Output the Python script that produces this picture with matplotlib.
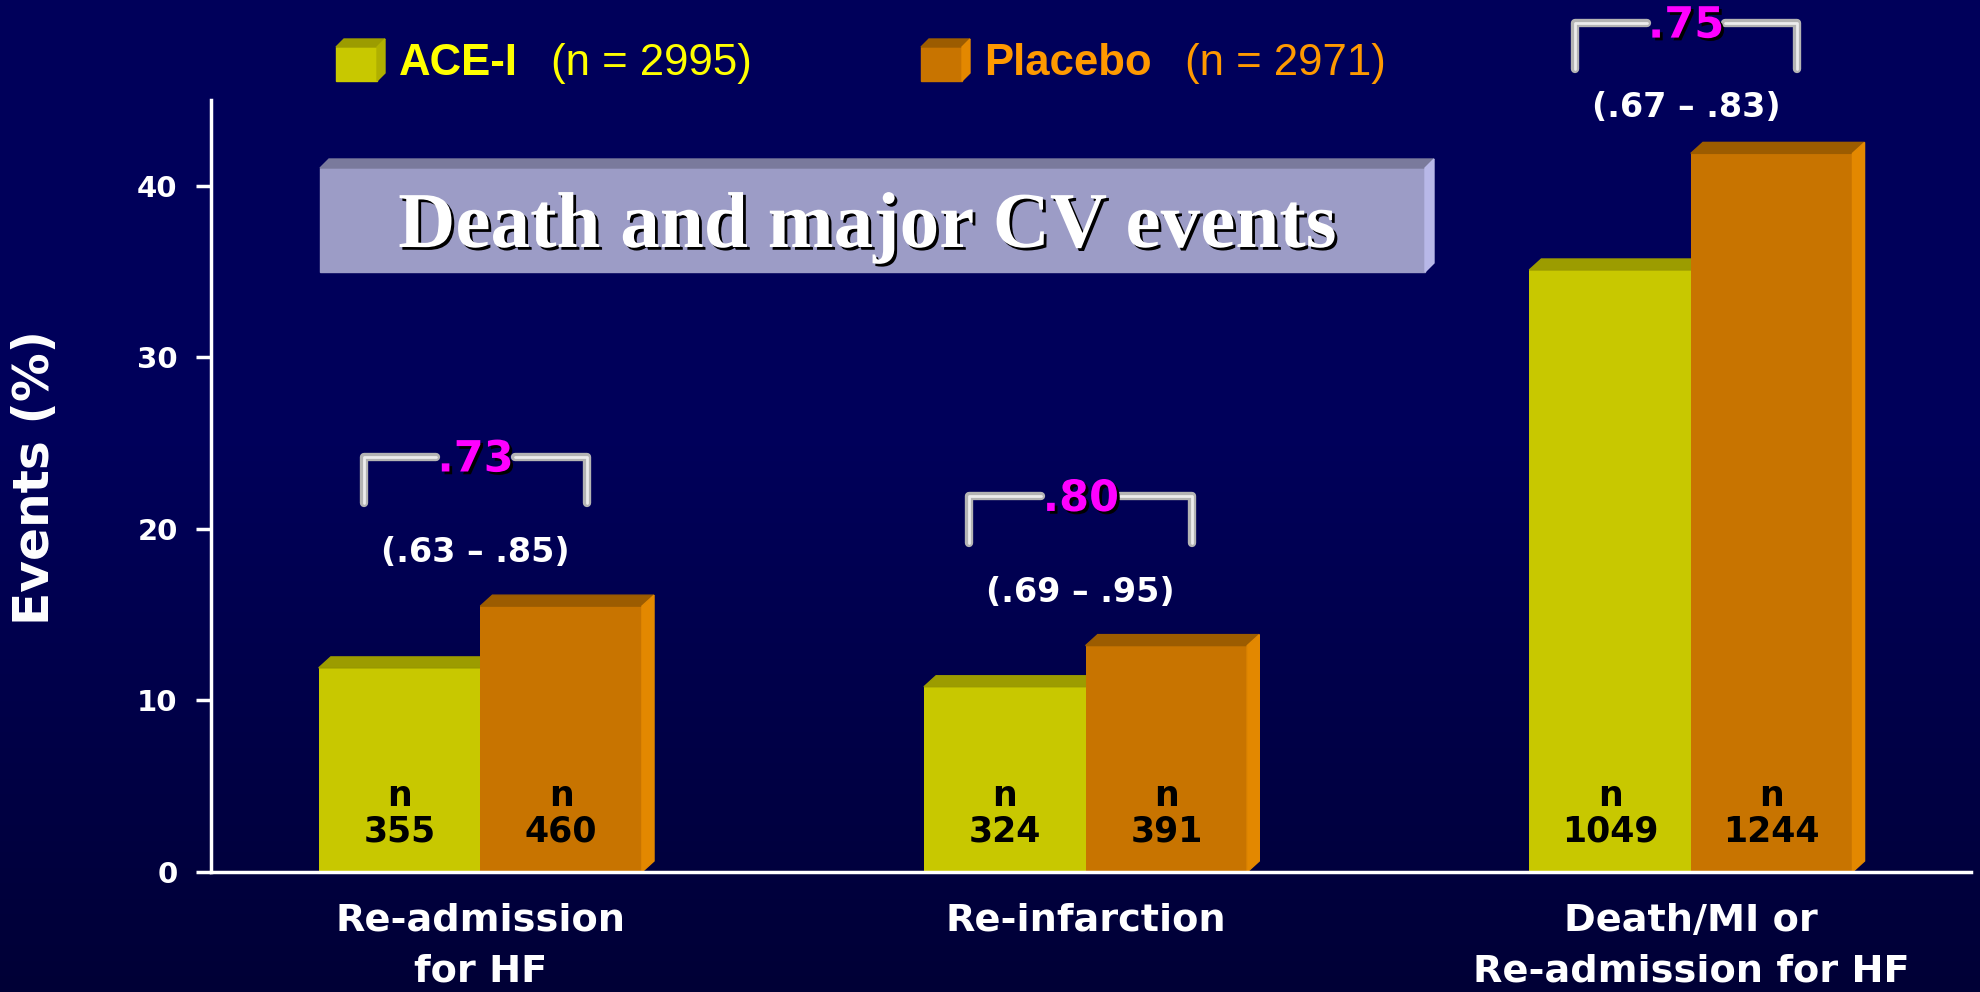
import matplotlib
matplotlib.use("Agg")
import matplotlib.pyplot as plt
import matplotlib.patheffects as pe
from matplotlib.patches import Polygon
import numpy as np

# data
categories = ["Re-admission\nfor HF", "Re-infarction", "Death/MI or\nRe-admission for HF"]
ace = [11.9, 10.8, 35.1]
placebo = [15.5, 13.2, 41.9]
ace_n = [355, 324, 1049]
placebo_n = [460, 391, 1244]
hr = [".73", ".80", ".75"]
ci = ["(.63 \u2013 .85)", "(.69 \u2013 .95)", "(.67 \u2013 .83)"]
yticks = [0, 10, 20, 30, 40]
legend_names = ["ACE-I", "Placebo"]
legend_counts = ["(n = 2995)", "(n = 2971)"]
title = "Death and major CV events"

ACE_FRONT, ACE_TOP = "#c8c800", "#9c9c00"
PLA_FRONT, PLA_TOP, PLA_SIDE = "#c87400", "#9c5c00", "#e38800"

plt.rcParams["font.family"] = ["DejaVu Sans"]

W, H = 1981, 992
fig = plt.figure(figsize=(W / 100, H / 100), dpi=100)

# background gradient
bg = fig.add_axes([0, 0, 1, 1], zorder=0)
t = np.linspace(0, 1, 256)
blend = np.clip((t - 0.45) / 0.55, 0, 1)[:, None]
top_c = np.array([0, 0, 0x5a]) / 255
bot_c = np.array([0, 0, 0x36]) / 255
grad = top_c * (1 - blend) + bot_c * blend
bg.imshow(grad[:, None, :], aspect="auto", extent=[0, 1, 0, 1])
bg.axis("off")

ax = fig.add_axes([0.1065, 0.121, 0.8885, 0.778], zorder=1)
ax.set_facecolor("none")
ax.set_xlim(-0.445, 2.463)
ax.set_ylim(0, 45)

x = np.arange(len(categories))
w = 0.267
dx, dy = 0.02, 0.64  # depth of the 3D faces

ax.bar(x - w / 2, ace, w, color=ACE_FRONT, zorder=3)
ax.bar(x + w / 2, placebo, w, color=PLA_FRONT, zorder=5)
for i in range(len(categories)):
    L, R = x[i] - w, x[i]
    v = ace[i]
    ax.add_patch(Polygon([(L, v), (L + dx, v + dy), (R + dx, v + dy), (R, v)],
                         closed=True, color=ACE_TOP, zorder=3, clip_on=False))
    L, R = x[i], x[i] + w
    v = placebo[i]
    ax.add_patch(Polygon([(L, v), (L + dx, v + dy), (R + dx, v + dy), (R, v)],
                         closed=True, color=PLA_TOP, zorder=5, clip_on=False))
    ax.add_patch(Polygon([(R, 0), (R + dx, dy), (R + dx, v + dy), (R, v)],
                         closed=True, color=PLA_SIDE, zorder=5, clip_on=False))

    # counts inside bars
    for cx, n in [(x[i] - w / 2, ace_n[i]), (x[i] + w / 2, placebo_n[i])]:
        ax.text(cx, 3.85, "n", ha="center", va="baseline", fontsize=25,
                fontweight="bold", color="black", zorder=6)
        ax.text(cx, 1.75, str(n), ha="center", va="baseline", fontsize=25,
                fontweight="bold", color="black", zorder=6)

    # hazard ratio bracket
    pv = max(ace[i], placebo[i])
    top = min(pv + 8.7, 49.5)
    bot = top - 2.7
    cy = min(pv + 3.1, 44.6)
    bx = x[i] - 0.008
    hw, gap = 0.184, 0.065
    for xs in ([bx - hw, bx - hw, bx - gap], [bx + hw, bx + hw, bx + gap]):
        ax.plot(xs, [bot, top, top], color="#b4b4b4", lw=6, solid_capstyle="round",
                solid_joinstyle="round", clip_on=False, zorder=6)
        ax.plot(xs, [bot, top, top], color="#ececec", lw=2, solid_capstyle="round",
                clip_on=False, zorder=6)
    ax.text(bx, top - 0.15, hr[i], ha="center", va="center", fontsize=31,
            fontweight="bold", color="#ff00ff", zorder=7, clip_on=False,
            path_effects=[pe.withSimplePatchShadow(offset=(2, -2), shadow_rgbFace="black", alpha=1)])
    ax.text(bx, cy, ci[i], ha="center", va="center", fontsize=24,
            fontweight="bold", color="white", zorder=7, clip_on=False)

for s in ["top", "right"]:
    ax.spines[s].set_visible(False)
for s in ["left", "bottom"]:
    ax.spines[s].set_color("white")
    ax.spines[s].set_linewidth(2.5)
    ax.spines[s].set_zorder(8)

ax.set_yticks(yticks)
ax.tick_params(axis="y", colors="white", length=11, width=2.5, pad=13, labelsize=21)
for lab in ax.get_yticklabels():
    lab.set_fontweight("bold")
ax.set_xticks(x)
ax.set_xticklabels(categories, fontsize=27.5, fontweight="bold", color="white", linespacing=1.55)
ax.tick_params(axis="x", length=0, pad=22)

fig.text(0.0177, 0.519, "Events (%)", rotation=90, ha="center", va="center",
         fontsize=35, fontweight="bold", color="white")

# decoration layer in pixel coordinates: legend and title box
deco = fig.add_axes([0, 0, 1, 1], zorder=2)
deco.set_xlim(0, W)
deco.set_ylim(H, 0)
deco.axis("off")
deco.patch.set_alpha(0)

def box3d(x0, y0, x1, y1, d, front, topc, side, z=1):
    deco.add_patch(Polygon([(x0, y0), (x1, y0), (x1, y1), (x0, y1)], color=front, zorder=z))
    deco.add_patch(Polygon([(x0, y0), (x0 + d, y0 - d), (x1 + d, y0 - d), (x1, y0)], color=topc, zorder=z))
    deco.add_patch(Polygon([(x1, y0), (x1 + d, y0 - d), (x1 + d, y1 - d), (x1, y1)], color=side, zorder=z))

legend_boxes = [(ACE_FRONT, ACE_TOP, "#b0b000"), (PLA_FRONT, PLA_TOP, PLA_SIDE)]
legend_colors = ["#ffff00", "#ff9900"]
legend_x = [336, 921]
renderer = fig.canvas.get_renderer()
for k in range(2):
    bx = legend_x[k]
    box3d(bx, 47, bx + 41, 81, 8, *legend_boxes[k])
    t1 = deco.text(bx + 63, 75, legend_names[k], ha="left", va="baseline", fontsize=31.5,
                   fontweight="bold", color=legend_colors[k], family=["Liberation Sans"])
    bb = t1.get_window_extent(renderer)
    deco.text(bb.x1 + 33, 75, legend_counts[k], ha="left", va="baseline", fontsize=31.5,
              color=legend_colors[k], family=["Liberation Sans"])

box3d(320, 168, 1425, 272, 9, "#9c9cc6", "#7a7a9c", "#b8b8e8")
deco.text(867, 247, title, ha="center", va="baseline", fontsize=57, fontweight="bold",
          color="white", family=["Liberation Serif"], zorder=3,
          path_effects=[pe.withSimplePatchShadow(offset=(2, -2), shadow_rgbFace="black", alpha=1)])

fig.savefig("out.png", dpi=100)
